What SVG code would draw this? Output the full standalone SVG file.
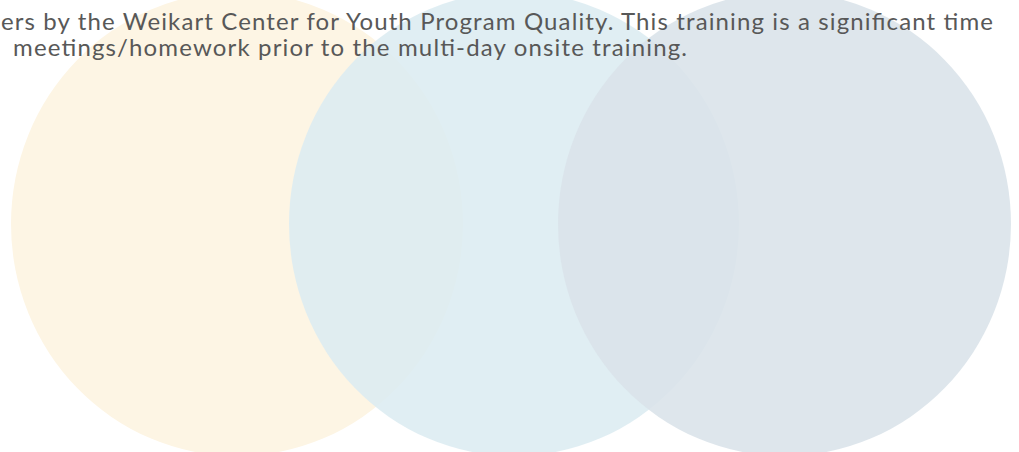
<svg xmlns="http://www.w3.org/2000/svg" width="1019" height="452" viewBox="0 0 1019 452">
  <style>
    .bg { fill: #ffffff; }
    .c1 { fill: #FDF5E4; }
    .c2 { fill: #DCECF1; fill-opacity: 0.88; }
    .c3 { fill: #D9E2E9; fill-opacity: 0.88; }
    .txt { font-family: Lato, "Liberation Sans", sans-serif; font-size: 24px; fill: #585858; }
  </style>
  <rect class="bg" x="0" y="0" width="1019" height="452"/>
  <g id="circle-left">
    <ellipse class="c1" cx="237" cy="224" rx="226" ry="232"/>
  </g>
  <g id="circle-middle">
    <ellipse class="c2" cx="514" cy="224" rx="225" ry="232"/>
  </g>
  <g id="circle-right">
    <ellipse class="c3" cx="784.5" cy="224" rx="226.5" ry="232"/>
  </g>
  <g id="caption">
    <text class="txt" x="1" y="29.5" textLength="992" lengthAdjust="spacing">ers by the Weikart Center for Youth Program Quality. This training is a significant time</text>
    <text class="txt" x="13" y="56" textLength="674" lengthAdjust="spacing">meetings/homework prior to the multi-day onsite training.</text>
  </g>
</svg>
